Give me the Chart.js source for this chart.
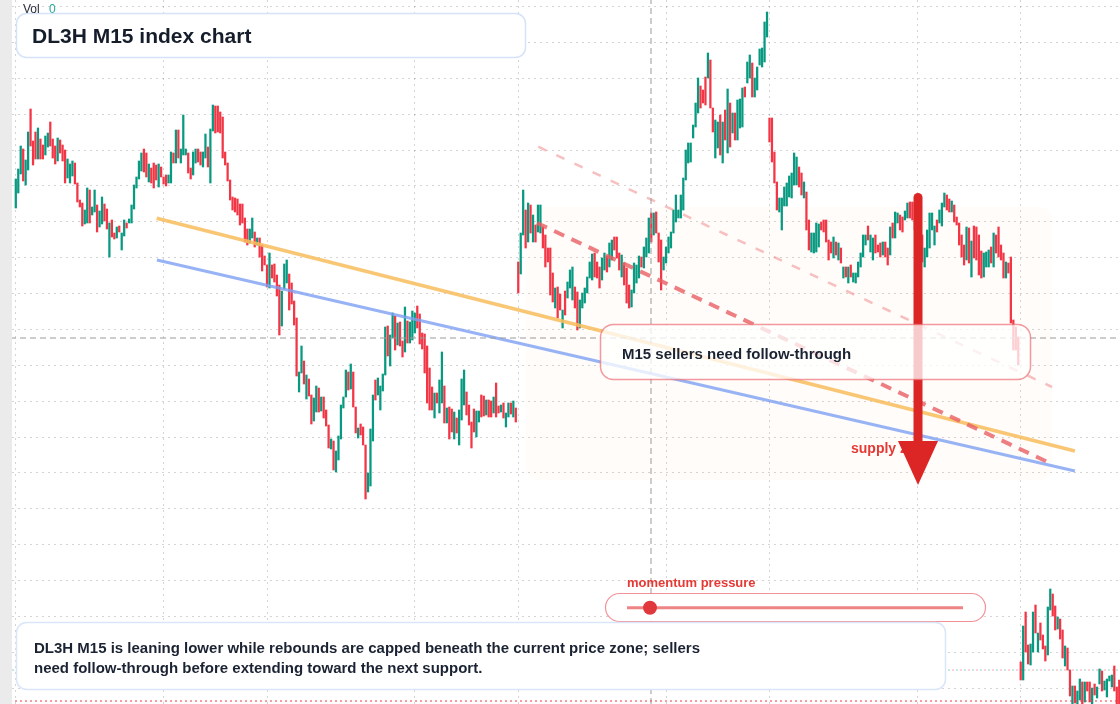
<!DOCTYPE html>
<html>
<head>
<meta charset="utf-8">
<script src="https://cdn.jsdelivr.net/npm/chart.js@4.4.1/dist/chart.umd.min.js"></script>
<style>
  html, body { margin: 0; padding: 0; background: #fff; }
  #wrap { width: 1120px; height: 704px; position: relative; }
</style>
</head>
<body>
<div id="wrap"><canvas id="chart_dl3h_m15"></canvas></div>
<script>
// bars are [high, low], one per 15-minute candle
const segA = [
  [621,592],[631,607],[654,626],[651,619],[640,615],[668,630],[691,654],[659,635],[668,641],[672,641],
  [661,641],[655,641],[664,645],[667,653],[678,654],[661,642],[654,636],[662,639],[660,647],[655,639],
  [650,617],[641,622],[636,617],[639,624],[637,616],[617,598],[600,593],[597,574],[590,576],[612,577],
  [610,577],[593,585],[610,588],[595,568],[589,573],[603,576],[596,579],[591,571],[577,543],[580,563],
  [567,561],[573,562],[574,568],[567,550],[580,564],[577,572],[581,577],[595,577],[615,591],[623,612],
  [639,621],[647,629],[651,628],[647,623],[636,618],[632,617],[637,612],[635,620],[636,613],[633,623],
  [623,616],[625,614],[625,617],[648,617],[647,637],[670,637],[670,642],[651,637],[685,645],[651,645],
  [647,627],[632,621],[648,625],[651,637],[651,638],[648,635],[648,633],[666,642],[653,633],[671,617],
  [695,669],[694,667],[694,668],[688,667],[683,642],[648,635],[637,619],[620,600],[603,590],[602,588],
  [601,585],[596,575],[596,577],[582,558],[571,555],[571,557],[582,562],[568,553],[562,555],[562,543],
  [555,529],[544,535],[535,513],[547,512],[535,522],[536,518],[525,504],[515,465],[509,474],[536,511],
  [540,517],[526,490],[517,496],[499,475],[482,424],[428,408],[454,427],[439,416],[425,401],[421,404],
  [405,376],[402,379],[414,388],[412,388],[403,389],[403,382],[390,374],[375,352],[361,351],[359,330],
  [349,328],[364,340],[395,361],[403,392],[430,403],[428,410],[436,411],[428,393],[393,367],[372,362],
  [376,365],[373,355],[355,301],[327,308],[371,314],[405,359],[420,400],[422,405],[414,390],[426,409],
  [473,425],[474,444],[465,434],[487,462],[484,450],[477,455],[478,454],[459,443],[493,448],[479,457],
  [478,457],[489,460],[487,467],[494,472],[486,456],[467,451],[466,427],[454,397],[432,390],[413,390],
  [407,382],[407,397],[420,387],[448,397],[414,377],[392,377],[393,361],[391,368],[388,361],[382,367],
  [390,355],[421,380],[430,395],[408,385],[395,375],[378,352],[391,368],[389,363],[389,378],[405,383],
  [404,384],[400,385],[400,383],[399,383],[403,387],[417,383],[394,387],[395,388],[397,382],[387,373],
  [397,383],[397,386],[399,383],[392,378]
];
const segB = [
  [538,507],[567,526],[610,565],[590,552],[597,558],[595,567],[585,558],[575,558],[595,568],[595,567],
  [573,552],[565,533],[552,538],[552,505],[527,498],[512,492],[513,482],[506,490],[490,472],[509,485],
  [518,502],[530,512],[533,500],[513,492],[508,470],[500,472],[507,492],[512,497],[523,507],[538,522],
  [546,520],[547,523],[538,522],[533,512],[542,520],[547,530],[544,528],[557,533],[560,540],[563,550],
  [563,542],[547,530],[545,523],[537,515],[532,497],[515,492],[510,493],[537,507],[535,517],[544,522],
  [543,533],[553,532],[562,543],[582,547],[587,558],[587,565],[588,567],[567,538],[560,510],[543,530],
  [553,537],[563,547],[568,552],[590,567],[605,578],[590,582],[605,582],[622,590],[650,620],[657,637],
  [657,638],[675,662],[697,673],[722,687],[714,692],[710,697],[723,695],[747,722],[740,692],[692,668],
  [680,642],[678,652],[685,645],[678,637],[690,660],[711,647],[697,653],[687,667],[687,660],[700,660],
  [701,672],[712,673],[713,703],[738,717],[745,722],[737,703],[722,703],[733,710],[751,735],[752,733],
  [778,738],[788,763],[682,658],[682,638],[648,617],[618,590],[602,588],[602,570],[613,594],[617,594],
  [624,603],[627,602],[647,615],[643,615],[633,613],[627,605],[618,602],[608,570],[580,550],[567,548],
  [567,547],[577,548],[576,553],[578,570],[580,568],[580,558],[560,540],[558,547],[563,542],[558,545],
  [557,540],[552,537],[533,522],[533,523],[533,517],[535,523],[527,518],[527,517],[538,523],[547,533],
  [565,543],[565,555],[574,560],[565,548],[562,540],[565,547],[555,548],[557,543],[558,545],[558,543],
  [552,535],[573,545],[577,562],[588,562],[587,577],[585,570],[583,568],[589,580],[597,582],[598,582],
  [598,580],[597,570],[585,555],[575,545],[565,538],[552,533],[570,543],[587,552],[587,570],[574,555],
  [580,568],[590,577],[597,574],[607,593],[605,590],[601,588],[599,588],[595,578],[583,575],[577,555],
  [565,543],[555,535],[573,540],[572,537],[559,523],[574,542],[573,540],[565,525],[549,522],[547,523],
  [548,533],[550,533],[553,537],[567,533],[565,547],[573,543],[555,540],[547,522],[538,522],[537,527],
  [543,477],[480,450],[473,450],[463,435]
];
const segC = [
  [138,120],[174,120],[188,148],[155,136],[156,135],[188,148],[195,167],[167,148],[177,160],[165,151],
  [154,139],[193,145],[211,190],[206,184],[194,170],[183,171],[181,161],[170,142],[154,134],[152,130],
  [130,104],[114,90],[114,97],[109,90],[121,100],[118,90],[118,98],[118,109],[118,98],[112,90],
  [116,105],[113,102],[131,116],[129,109],[119,110],[121,103],[124,119],[125,113],[134,109],[113,90],
  [120,90]
];
// g = up candle, r = down candle
const dirA = 'gggrggrrrg' + 'rrggrrrgrr' + 'rgggrrrrgg' + 'rggrggrrgr' + 'rgrggrgggg' + 'ggrrgrrrgr' +
             'rrggrgrggg' + 'rrggrrggrg' + 'grrrrrrrrr' + 'rrrrrggrgr' + 'rrrgrrrrgg' + 'grrrrggrgr' +
             'rggrgrrrgr' + 'gggggrgrrg' + 'rrrgggrggg' + 'grggrgrrgr' + 'gggrrrrrrr' + 'grggrgrrgr' +
             'gggrrrrggr' + 'rgrrgrrgrg' + 'grgr';
const dirB = 'rggrgrgrgg' + 'rrrrrgrrgr' + 'gggrrggggg' + 'grrrggrggr' + 'rrgrrrgggg' + 'rgggrgrrrg' +
             'gggggggggg' + 'ggggrrrgrr' + 'ggrgrgrgrg' + 'ggrggrgggg' + 'ggrrrrgggg' + 'ggggrrgrrg' +
             'gggrrrrrgr' + 'grgrgrgggg' + 'ggrggrrrgr' + 'rgrggrrggr' + 'rrrgrggggg' + 'rgggrrgrrr' +
             'rrgrgrrrrg' + 'ggrgrrrrgr' + 'rrrr';
const dirC = 'rgrrggrgrr' + 'rggrrgrrgr' + 'rgrggrgrrg' + 'rggrggggrr' + 'r';

// axis ticks (bar index for time, price for levels)
const timeTicks = [0, 60, 102, 162, 204, 264, 306, 366, 408];
const priceTicks = [793.3, 757.4, 721.6, 685.7, 649.9, 614.0, 578.1, 542.3, 506.4, 470.6,
                    434.7, 398.8, 363.0, 327.1, 291.3, 255.4, 219.5, 183.7, 147.8, 112.0];

// drawn levels: [bar index, price]
const resistanceLine = [[57.2, 581.7], [430.0, 349.0]];
const supportLine = [[57.3, 540.0], [430.0, 329.0]];
const sellerTrend = [[211.6, 577.0], [420.7, 336.0]];
const upperChannel = [[212.1, 653.3], [420.7, 413.0]];
const crossBar = 257.9;
const crossPrice = 462;
const openLevel = 130;
const lastLevel = 99;
const supplyZone = { from: 207.1, to: 420.7, top: 593, bottom: 320 };
const arrowMove = { at: 366.3, from: 607, to: 315 };

const UP = '#089981';
const DOWN = '#f23645';
const FONT = '"Liberation Sans", Arial, sans-serif';

const candles = segA.concat(segB, segC);
const dirs = dirA + dirB + dirC;
const xMin = -6.415, xMax = 448.31;

function pts(arr) { return arr.map(p => ({ x: p[0], y: p[1] })); }
function lineSet(data, color, width, dash, order) {
  return { type: 'line', data: pts(data), borderColor: color, borderWidth: width,
           borderDash: dash || [], pointRadius: 0, fill: false, tension: 0, order: order };
}

const overlayPlugin = {
  id: 'overlay',
  beforeDraw: (chart) => {
    const ctx = chart.ctx;
    ctx.save();
    ctx.fillStyle = '#ffffff';
    ctx.fillRect(0, 0, chart.width, chart.height);
    ctx.restore();
  },
  beforeDatasetsDraw: (chart) => {
    const { ctx, scales: { x, y } } = chart;
    const x0 = x.getPixelForValue(supplyZone.from), x1 = x.getPixelForValue(supplyZone.to);
    const y0 = y.getPixelForValue(supplyZone.top), y1 = y.getPixelForValue(supplyZone.bottom);
    ctx.save();
    ctx.fillStyle = 'rgba(245,160,120,0.035)';
    ctx.beginPath();
    ctx.roundRect(x0, y0, x1 - x0, y1 - y0, 12);
    ctx.fill();
    ctx.restore();
  },
  afterDatasetsDraw: (chart) => {
    const { ctx, scales: { x, y } } = chart;
    ctx.save();
    // left price-strip
    ctx.fillStyle = '#ebebeb';
    ctx.fillRect(0, 0, 12, chart.height);

    // zone label (arrow passes over it)
    ctx.fillStyle = '#e53935';
    ctx.font = 'bold 14px ' + FONT;
    ctx.textBaseline = 'alphabetic';
    ctx.fillText('supply zone', 851, 453);

    // arrow
    const ax = x.getPixelForValue(arrowMove.at);
    const aTop = y.getPixelForValue(arrowMove.from);
    const aTip = y.getPixelForValue(arrowMove.to);
    ctx.strokeStyle = '#dc2626';
    ctx.fillStyle = '#dc2626';
    ctx.lineWidth = 9;
    ctx.lineCap = 'round';
    ctx.beginPath();
    ctx.moveTo(ax, aTop + 4.5);
    ctx.lineTo(ax, aTip - 40);
    ctx.stroke();
    ctx.beginPath();
    ctx.moveTo(ax - 20, aTip - 44);
    ctx.lineTo(ax + 20, aTip - 44);
    ctx.lineTo(ax, aTip);
    ctx.closePath();
    ctx.fill();

    // callout
    ctx.lineCap = 'butt';
    ctx.beginPath();
    ctx.roundRect(600.5, 324.5, 430, 55, 13);
    ctx.fillStyle = 'rgba(255,255,255,0.76)';
    ctx.fill();
    ctx.strokeStyle = 'rgba(236,100,108,0.65)';
    ctx.lineWidth = 1.5;
    ctx.stroke();
    ctx.fillStyle = '#1b2333';
    ctx.font = 'bold 15px ' + FONT;
    ctx.fillText('M15 sellers need follow-through', 622, 359);

    // momentum pill
    ctx.beginPath();
    ctx.roundRect(605.5, 593.5, 380, 28, 14);
    ctx.fillStyle = 'rgba(255,255,255,0.95)';
    ctx.fill();
    ctx.strokeStyle = 'rgba(236,100,108,0.7)';
    ctx.lineWidth = 1.2;
    ctx.stroke();
    ctx.strokeStyle = 'rgba(236,110,110,0.85)';
    ctx.lineWidth = 3;
    ctx.beginPath();
    ctx.moveTo(627, 607.7);
    ctx.lineTo(963, 607.7);
    ctx.stroke();
    ctx.fillStyle = '#e0383c';
    ctx.beginPath();
    ctx.arc(650, 607.7, 7, 0, Math.PI * 2);
    ctx.fill();
    ctx.fillStyle = '#e53935';
    ctx.font = 'bold 13px ' + FONT;
    ctx.fillText('momentum pressure', 627, 587);

    // title box
    ctx.beginPath();
    ctx.roundRect(16.5, 13.5, 509, 44, 10);
    ctx.fillStyle = '#ffffff';
    ctx.fill();
    ctx.strokeStyle = '#d5e3fa';
    ctx.lineWidth = 1.5;
    ctx.stroke();
    ctx.fillStyle = '#151d2b';
    ctx.font = 'bold 21px ' + FONT;
    ctx.fillText('DL3H M15 index chart', 32, 43.3);

    // note box
    ctx.beginPath();
    ctx.roundRect(16.5, 622.5, 929, 67, 10);
    ctx.fillStyle = '#ffffff';
    ctx.fill();
    ctx.strokeStyle = '#d9e5f9';
    ctx.lineWidth = 1.5;
    ctx.stroke();
    ctx.fillStyle = '#1b2333';
    ctx.font = 'bold 15px ' + FONT;
    ctx.fillText('DL3H M15 is leaning lower while rebounds are capped beneath the current price zone; sellers', 34, 652.5);
    ctx.fillText('need follow-through before extending toward the next support.', 34, 672.5);

    // volume readout
    ctx.font = '12px ' + FONT;
    ctx.fillStyle = '#2a2e39';
    ctx.fillText('Vol', 23, 13);
    ctx.fillStyle = '#26a69a';
    ctx.fillText('0', 49, 13);
    ctx.restore();
  }
};

const chart_dl3h_m15 = new Chart(document.getElementById('chart_dl3h_m15'), {
  type: 'bar',
  data: {
    datasets: [
      {
        type: 'bar',
        label: 'DL3H M15',
        data: candles.map((c, i) => ({ x: i, y: [c[1], c[0]] })),
        backgroundColor: candles.map((c, i) => dirs[i] === 'g' ? UP : DOWN),
        borderWidth: 0,
        barThickness: 1.6,
        grouped: false,
        order: 20
      },
      lineSet(upperChannel, 'rgba(240,140,140,0.55)', 2.5, [9, 11], 8),
      lineSet(resistanceLine, 'rgba(248,188,92,0.85)', 3.5, null, 7),
      lineSet(supportLine, 'rgba(125,160,242,0.8)', 3, null, 6),
      lineSet(sellerTrend, 'rgba(232,95,100,0.8)', 4, [11, 8], 5),
      lineSet([[crossBar, 96], [crossBar, 800]], '#9a9a9a', 1, [6, 4], 4),
      lineSet([[xMin, crossPrice], [xMax, crossPrice]], '#9a9a9a', 1, [6, 4], 4),
      Object.assign(lineSet([[xMin, openLevel], [xMax, openLevel]], 'rgba(242,54,69,0.45)', 1.2, [2, 6], 3), { borderDashOffset: 0 }),
      Object.assign(lineSet([[xMin, openLevel], [xMax, openLevel]], 'rgba(8,153,129,0.45)', 1.2, [2, 6], 3), { borderDashOffset: 4 }),
      lineSet([[xMin, lastLevel], [xMax, lastLevel]], '#f23645', 1.2, [2, 3], 2)
    ]
  },
  options: {
    animation: false,
    responsive: true,
    maintainAspectRatio: false,
    events: [],
    layout: { padding: 0 },
    plugins: {
      legend: { display: false },
      title: { display: false },
      tooltip: { enabled: false }
    },
    scales: {
      x: {
        type: 'linear',
        min: xMin,
        max: xMax,
        offset: false,
        afterBuildTicks: (scale) => { scale.ticks = timeTicks.map(v => ({ value: v })); },
        ticks: { display: false },
        grid: { color: 'rgba(0,0,0,0.17)', drawTicks: false, offset: false },
        border: { display: false, dash: [2, 4] }
      },
      y: {
        type: 'linear',
        min: 96,
        max: 800,
        afterBuildTicks: (scale) => { scale.ticks = priceTicks.map(v => ({ value: v })); },
        ticks: { display: false },
        grid: { color: 'rgba(0,0,0,0.17)', drawTicks: false },
        border: { display: false, dash: [2, 4] }
      }
    }
  },
  plugins: [overlayPlugin]
});
</script>
</body>
</html>
